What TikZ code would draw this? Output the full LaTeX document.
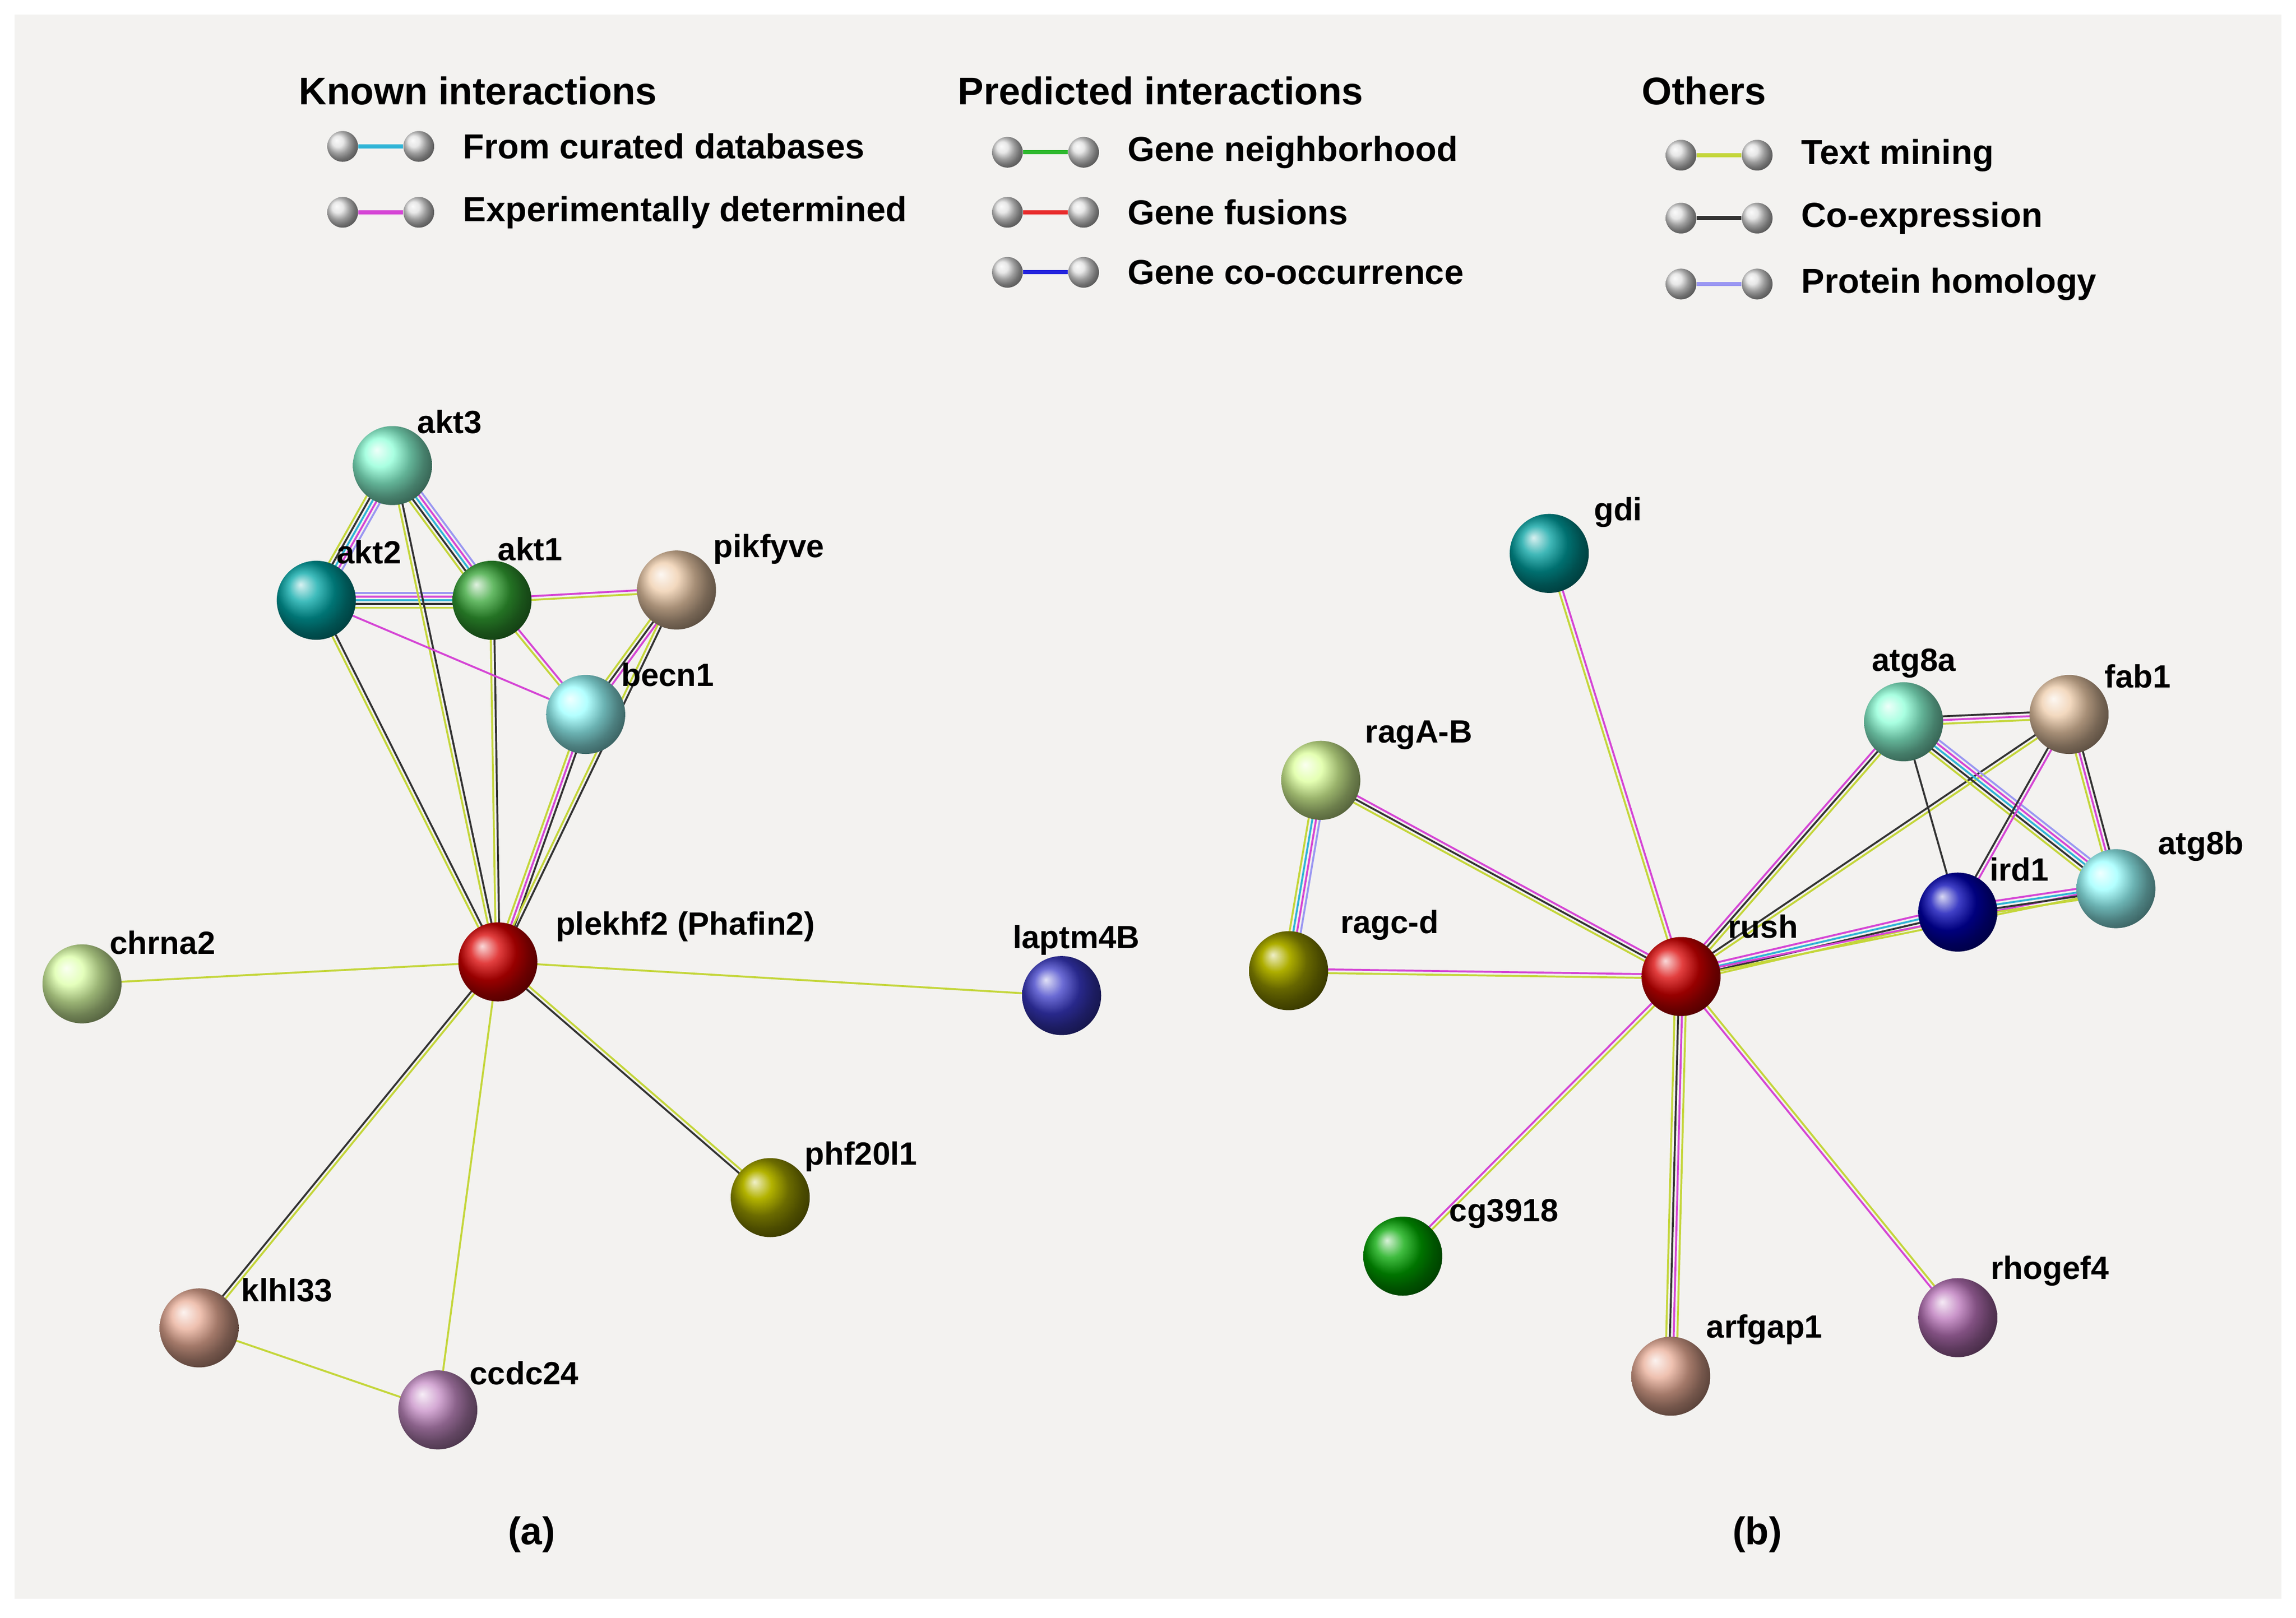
\documentclass[tikz,border=0pt]{standalone}
\usepackage{fontspec}
\setmainfont{Liberation Sans}
\usetikzlibrary{calc, positioning}
\pgfdeclarelayer{back}
\pgfdeclarelayer{bg}
\pgfsetlayers{back,bg,main}

\definecolor{tmcol}{HTML}{C4D63A}
\definecolor{kcol}{HTML}{333333}
\definecolor{ecol}{HTML}{D545D5}
\definecolor{dcol}{HTML}{2FB4D6}
\definecolor{hcol}{HTML}{9A97F2}
\definecolor{ncol}{HTML}{2EB82E}
\definecolor{fcol}{HTML}{E82C2C}
\definecolor{ocol}{HTML}{2424DD}
\definecolor{panel}{HTML}{F3F2F0}

\tikzset{
  prot/.style={circle, minimum size=1.08cm, inner sep=0pt, ball color=#1},
  plabel/.style={font=\fontsize{12.5}{15}\selectfont\bfseries, anchor=center},
  T/.style={draw=tmcol}, K/.style={draw=kcol}, E/.style={draw=ecol},
  D/.style={draw=dcol}, H/.style={draw=hcol}, N/.style={draw=ncol},
  F/.style={draw=fcol}, O/.style={draw=ocol},
  legball/.style={circle, minimum size=0.42cm, inner sep=0pt, ball color=gray!25},
  legtext/.style={font=\fontsize{13.5}{16}\selectfont\bfseries, anchor=west},
  head/.style={font=\fontsize{15}{18}\selectfont\bfseries, anchor=west}
}

% protein: name, x, y, colour, label, label x, label y
\newcommand\prot[7]{%
  \node[prot=#4] (#1) at (#2,#3) {};
  \node[plabel] (#1-l) at (#6,#7) {#5};}

% parallel coloured links between two proteins
\newcommand\links[3]{%
  \foreach \c [count=\i] in {#3}{\xdef\nlinks{\i}}
  \foreach \c [count=\i] in {#3}{
    \pgfmathsetmacro\off{(\i-(\nlinks+1)/2)*1.45}
    \draw[\c, line width=0.75pt] ($(#1.center)!\off pt!90:(#2.center)$) -- ($(#2.center)!\off pt!-90:(#1.center)$);
  }}

% legend entry: name, x of first ball, y, colour style, text
\newcommand\legend[5]{%
  \node[legball] (#1-a) at (#2,#3) {};
  \node[legball] (#1-b) at (#2+52,#3) {};
  \begin{pgfonlayer}{bg}\draw[#4, line width=1.6pt] (#1-a) -- (#1-b);\end{pgfonlayer}
  \node[legtext] (#1-t) at (#2+76,#3) {#5};}

\begin{document}
\begin{tikzpicture}[x=0.02cm, y=-0.02cm]
\useasboundingbox (0,0) rectangle (1568,1105);
\begin{pgfonlayer}{back}
\fill[panel] (10,10) rectangle (1558,1092);
\end{pgfonlayer}

% legend
\node[head] (known) at (198,62) {Known interactions};
\node[head] (pred) at (648,62) {Predicted interactions};
\node[head] (others) at (1115,62) {Others};
\legend{cur}{234}{100}{D}{From curated databases}
\legend{exp}{234}{145}{E}{Experimentally determined}
\legend{nei}{688}{104}{N}{Gene neighborhood}
\legend{fus}{688}{145}{F}{Gene fusions}
\legend{coo}{688}{186}{O}{Gene co-occurrence}
\legend{txt}{1148}{106}{T}{Text mining}
\legend{cex}{1148}{149}{K}{Co-expression}
\legend{hom}{1148}{194}{H}{Protein homology}

% panel (a)
\prot{akt3}{268}{318}{green!35!cyan!45!white}{akt3}{307}{288}
\prot{akt2}{216}{410}{teal!70!cyan}{akt2}{252}{377}
\prot{akt1}{336}{410}{green!55!black!80}{akt1}{362}{375}
\prot{pikfyve}{462}{403}{orange!35!brown!40!white}{pikfyve}{525}{375}
\prot{becn1}{400}{488}{cyan!40!white}{becn1}{456}{461}
\prot{chrna2}{56}{672}{green!40!yellow!35!white}{chrna2}{111}{644}
\prot{plekhf2}{340}{657}{red!85!black}{plekhf2 (Phafin2)}{468}{633}
\prot{laptm4B}{725}{680}{blue!55!gray}{laptm4B}{735}{642}
\prot{phf20l1}{526}{818}{olive!80!yellow}{phf20l1}{588}{790}
\prot{klhl33}{136}{907}{red!30!brown!50!white}{klhl33}{196}{881}
\prot{ccdc24}{299}{963}{violet!45!white}{ccdc24}{358}{938}

% panel (b)
\prot{gdi}{1058}{378}{teal!75!cyan}{gdi}{1105}{350}
\prot{ragAB}{902}{533}{green!35!yellow!40!white}{ragA-B}{969}{502}
\prot{ragcd}{880}{663}{olive!85!yellow}{ragc-d}{949}{632}
\prot{rush}{1148}{667}{red!85!black}{rush}{1204}{633}
\prot{atg8a}{1300}{493}{green!35!cyan!45!white}{atg8a}{1307}{453}
\prot{fab1}{1413}{488}{orange!35!brown!40!white}{fab1}{1460}{462}
\prot{ird1}{1337}{623}{blue!70!black}{ird1}{1379}{594}
\prot{atg8b}{1445}{607}{cyan!40!white}{atg8b}{1503}{578}
\prot{cg3918}{958}{858}{green!65!black}{cg3918}{1027}{829}
\prot{arfgap1}{1141}{940}{red!30!brown!50!white}{arfgap1}{1205}{908}
\prot{rhogef4}{1337}{900}{violet!55!white}{rhogef4}{1400}{868}

\node[font=\fontsize{15}{18}\selectfont\bfseries] (capa) at (363,1048) {(a)};
\node[font=\fontsize{15}{18}\selectfont\bfseries] (capb) at (1200,1048) {(b)};

\begin{pgfonlayer}{bg}
\links{akt3}{akt2}{T,K,D,E,H}
\links{akt3}{akt1}{T,K,D,E,H}
\links{akt2}{akt1}{T,K,D,E,H}
\links{akt3}{plekhf2}{T,K}
\links{akt2}{plekhf2}{T,K}
\links{akt1}{plekhf2}{T,K}
\links{akt1}{pikfyve}{T,E}
\links{akt2}{becn1}{E}
\links{akt1}{becn1}{T,E}
\links{pikfyve}{becn1}{T,K,E}
\links{becn1}{plekhf2}{T,E,K}
\links{pikfyve}{plekhf2}{T,K}
\links{chrna2}{plekhf2}{T}
\links{laptm4B}{plekhf2}{T}
\links{phf20l1}{plekhf2}{T,K}
\links{klhl33}{plekhf2}{T,K}
\links{ccdc24}{plekhf2}{T}
\links{klhl33}{ccdc24}{T}

\links{gdi}{rush}{T,E}
\links{ragAB}{rush}{T,K,E}
\links{ragAB}{ragcd}{T,D,E,H}
\links{ragcd}{rush}{T,E}
\links{rush}{atg8a}{T,K,E}
\links{rush}{fab1}{T,K}
\links{rush}{ird1}{T,K,D,E}
\links{rush}{atg8b}{T,E}
\links{atg8a}{fab1}{T,E,K}
\links{atg8a}{ird1}{K}
\links{atg8a}{atg8b}{T,K,D,E,H}
\links{fab1}{ird1}{K,E}
\links{fab1}{atg8b}{T,E,K}
\links{ird1}{atg8b}{T,K,D,E}
\links{cg3918}{rush}{T,E}
\links{arfgap1}{rush}{T,E,K,T}
\links{rhogef4}{rush}{T,E}
\end{pgfonlayer}
\end{tikzpicture}
\end{document}
